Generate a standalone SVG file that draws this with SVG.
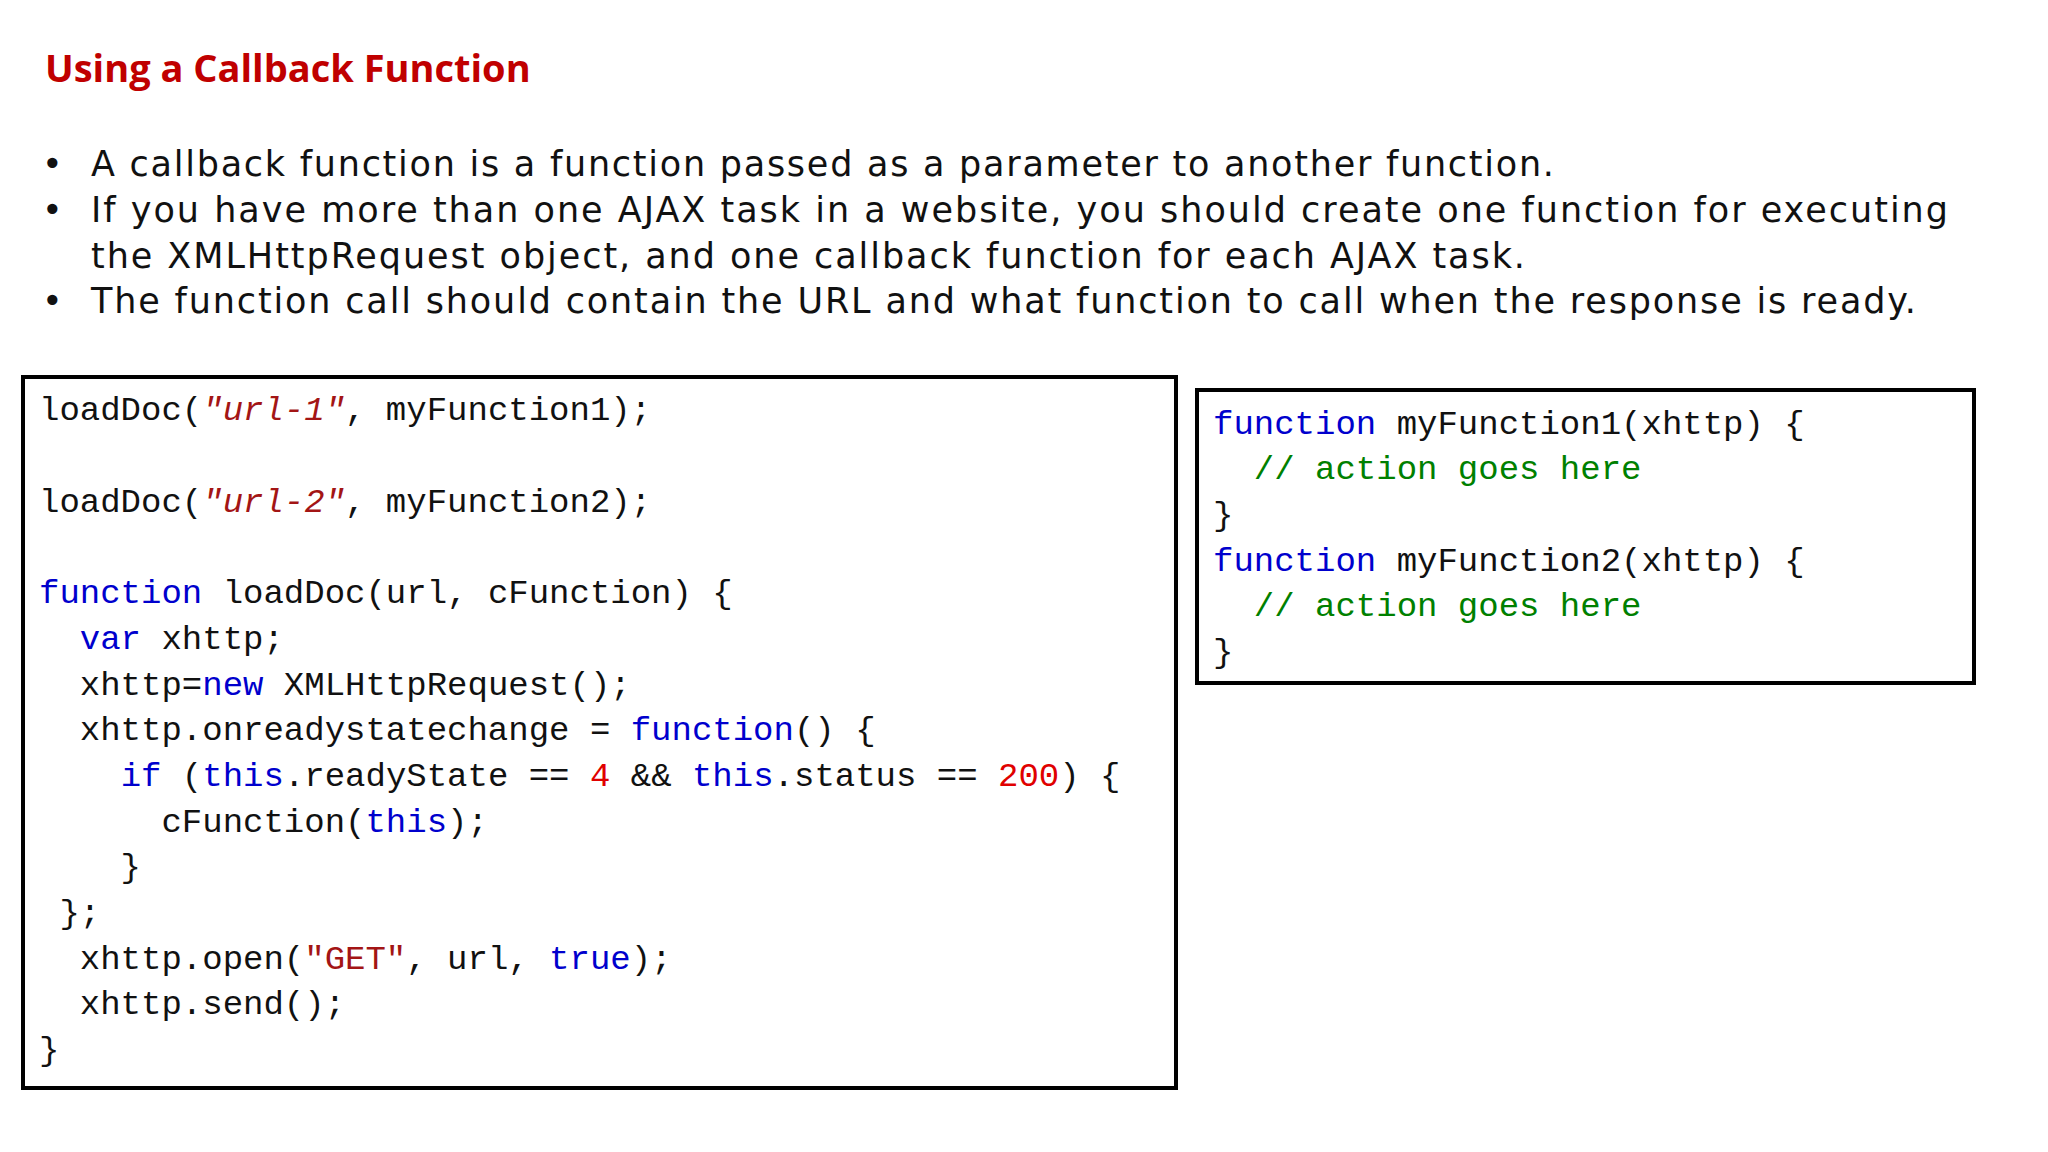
<svg xmlns="http://www.w3.org/2000/svg" width="2048" height="1152" viewBox="0 0 2048 1152">
<style>
.t{font-family:"DejaVu Sans",Verdana,sans-serif;font-size:35px;fill:#111}
.c{font-family:"Liberation Mono","DejaVu Sans Mono",monospace;font-size:34px;fill:#111;white-space:pre}
.k{fill:#0000cd}.s{fill:#a31515}.i{font-style:italic}.n{fill:#e00000}.g{fill:#008000}
.box{fill:#fff;stroke:#000;stroke-width:4}
</style>
<rect width="2048" height="1152" fill="#fff"/>
<text x="45" y="82" font-family="'Open Sans','Liberation Sans',sans-serif" font-weight="bold" font-size="38" fill="#c00000">Using a Callback Function</text>
<g class="t">
<text x="42" y="176">•</text><text x="91" y="176" textLength="1463">A callback function is a function passed as a parameter to another function.</text>
<text x="42" y="222">•</text><text x="91" y="222" textLength="1857">If you have more than one AJAX task in a website, you should create one function for executing</text>
<text x="91" y="268" textLength="1434">the XMLHttpRequest object, and one callback function for each AJAX task.</text>
<text x="42" y="313">•</text><text x="91" y="313" textLength="1825">The function call should contain the URL and what function to call when the response is ready.</text>
</g>
<g id="left">
<rect class="box" x="23" y="377" width="1153" height="711"/>
<text class="c" x="39" y="420">loadDoc(<tspan class="s i">"url-1"</tspan>, myFunction1);</text>
<text class="c" x="39" y="512">loadDoc(<tspan class="s i">"url-2"</tspan>, myFunction2);</text>
<text class="c" x="39" y="603"><tspan class="k">function</tspan> loadDoc(url, cFunction) {</text>
<text class="c" x="39" y="649">  <tspan class="k">var</tspan> xhttp;</text>
<text class="c" x="39" y="695">  xhttp=<tspan class="k">new</tspan> XMLHttpRequest();</text>
<text class="c" x="39" y="740">  xhttp.onreadystatechange = <tspan class="k">function</tspan>() {</text>
<text class="c" x="39" y="786">    <tspan class="k">if</tspan> (<tspan class="k">this</tspan>.readyState == <tspan class="n">4</tspan> &amp;&amp; <tspan class="k">this</tspan>.status == <tspan class="n">200</tspan>) {</text>
<text class="c" x="39" y="832">      cFunction(<tspan class="k">this</tspan>);</text>
<text class="c" x="39" y="877">    }</text>
<text class="c" x="39" y="923"> };</text>
<text class="c" x="39" y="969">  xhttp.open(<tspan class="s">"GET"</tspan>, url, <tspan class="k">true</tspan>);</text>
<text class="c" x="39" y="1014">  xhttp.send();</text>
<text class="c" x="39" y="1060">}</text>
</g>
<g id="right">
<rect class="box" x="1197" y="390" width="777" height="293"/>
<text class="c" x="1213" y="434"><tspan class="k">function</tspan> myFunction1(xhttp) {</text>
<text class="c" x="1213" y="479">  <tspan class="g">// action goes here</tspan></text>
<text class="c" x="1213" y="525">}</text>
<text class="c" x="1213" y="571"><tspan class="k">function</tspan> myFunction2(xhttp) {</text>
<text class="c" x="1213" y="616">  <tspan class="g">// action goes here</tspan></text>
<text class="c" x="1213" y="662">}</text>
</g>
<g id="connectors"/>
</svg>
